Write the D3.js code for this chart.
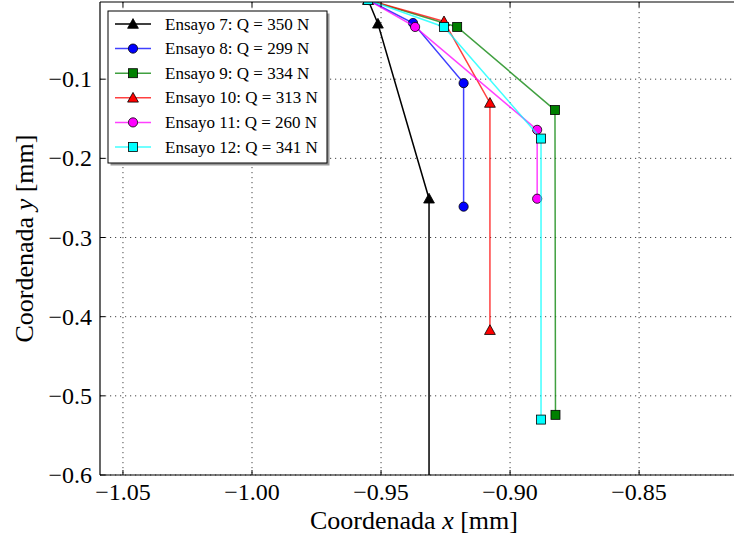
<!DOCTYPE html>
<html><head><meta charset="utf-8">
<script src="https://cdn.jsdelivr.net/npm/d3@7"></script>
<style>body{margin:0;background:#fff}svg{display:block}text{font-family:"Liberation Serif","Times New Roman",serif}</style>
</head><body>
<div id="chart"></div>
<script>
const seriesNames = ["Ensayo 7: Q = 350 N","Ensayo 8: Q = 299 N","Ensayo 9: Q = 334 N","Ensayo 10: Q = 313 N","Ensayo 11: Q = 260 N","Ensayo 12: Q = 341 N"];
const seriesColors = ["#000000","#0000ff","#008000","#ff0000","#ff00ff","#00ffff"];
const seriesMarkers = ["triangle","circle","square","triangle","circle","square"];
const ensayo7X = [-0.955,-0.9512,-0.9314,-0.9314];
const ensayo7Y = [0,-0.030,-0.251,-0.65];
const ensayo8X = [-0.955,-0.9376,-0.918,-0.918];
const ensayo8Y = [0,-0.029,-0.105,-0.261];
const ensayo9X = [-0.955,-0.9205,-0.8826,-0.8824];
const ensayo9Y = [0,-0.034,-0.139,-0.524];
const ensayo10X = [-0.955,-0.9256,-0.9078,-0.9078];
const ensayo10Y = [0,-0.027,-0.130,-0.417];
const ensayo11X = [-0.955,-0.9368,-0.8895,-0.8895];
const ensayo11Y = [0,-0.034,-0.164,-0.251];
const ensayo12X = [-0.955,-0.9256,-0.888,-0.888];
const ensayo12Y = [0,-0.034,-0.175,-0.530];
const xTicks = [-1.05,-1.00,-0.95,-0.90,-0.85];
const yTicks = [-0.1,-0.2,-0.3,-0.4,-0.5,-0.6];
const xLabel = "Coordenada ";
const yLabel = "Coordenada ";

const allX = [ensayo7X,ensayo8X,ensayo9X,ensayo10X,ensayo11X,ensayo12X];
const allY = [ensayo7Y,ensayo8Y,ensayo9Y,ensayo10Y,ensayo11Y,ensayo12Y];

const W = 734, H = 539;
const L = 100, T = 2, B = 475, R = 740;
const svg = d3.select("#chart").append("svg").attr("width", W).attr("height", H);
const x = d3.scaleLinear().domain([-1.0589, -0.8109]).range([L, R]);
const y = d3.scaleLinear().domain([-0.6, -0.0025]).range([B, T]);
const fmtMinus = s => s.replace("-", "\u2212");

svg.append("defs").append("clipPath").attr("id","clip").append("rect")
  .attr("x", L).attr("y", T).attr("width", R - L).attr("height", B - T);

// grid
const grid = svg.append("g").attr("stroke","#444").attr("stroke-width",1).attr("stroke-dasharray","1.2,3.8");
xTicks.forEach(v => grid.append("line").attr("x1",x(v)).attr("x2",x(v)).attr("y1",T).attr("y2",B));
yTicks.forEach(v => grid.append("line").attr("x1",L).attr("x2",R).attr("y1",y(v)).attr("y2",y(v)));

function marker(g, type, cx, cy, color) {
  if (type === "circle") {
    g.append("circle").attr("cx",cx).attr("cy",cy).attr("r",4.6).attr("fill",color).attr("stroke","#000").attr("stroke-width",0.8);
  } else if (type === "square") {
    g.append("rect").attr("x",cx-4.5).attr("y",cy-4.5).attr("width",9).attr("height",9).attr("fill",color).attr("stroke","#000").attr("stroke-width",0.8);
  } else {
    const s = 5.4;
    g.append("path").attr("d",`M${cx},${cy-s} L${cx+s},${cy+s*0.8} L${cx-s},${cy+s*0.8} Z`).attr("fill",color).attr("stroke","#000").attr("stroke-width",0.8);
  }
}

const plot = svg.append("g").attr("clip-path","url(#clip)");
const line = d3.line().x(d => x(d[0])).y(d => y(d[1]));
allX.forEach((xs, i) => {
  const pts = xs.map((v, j) => [v, allY[i][j]]);
  const g = plot.append("g");
  g.append("path").attr("d", line(pts)).attr("fill","none").attr("stroke",seriesColors[i])
    .attr("stroke-width",1.5).attr("stroke-opacity", i === 0 ? 1 : 0.75);
  pts.forEach(p => marker(g, seriesMarkers[i], x(p[0]), y(p[1]), seriesColors[i]));
});

// spines
const sp = svg.append("g").attr("stroke","#000").attr("stroke-width",1.2);
sp.append("line").attr("x1",L).attr("x2",L).attr("y1",T).attr("y2",B);
sp.append("line").attr("x1",L).attr("x2",R).attr("y1",B).attr("y2",B);
sp.append("line").attr("x1",L).attr("x2",R).attr("y1",T).attr("y2",T);

// ticks
const tk = svg.append("g").attr("stroke","#000").attr("stroke-width",1);
xTicks.forEach(v => {
  tk.append("line").attr("x1",x(v)).attr("x2",x(v)).attr("y1",B).attr("y2",B-5);
  tk.append("line").attr("x1",x(v)).attr("x2",x(v)).attr("y1",T).attr("y2",T+5);
});
yTicks.forEach(v => {
  tk.append("line").attr("x1",L).attr("x2",L+5).attr("y1",y(v)).attr("y2",y(v));
});

// tick labels
const tl = svg.append("g").attr("font-size",24).attr("fill","#000");
xTicks.forEach(v => tl.append("text").attr("x",x(v)).attr("y",B+25).attr("text-anchor","middle").text(fmtMinus(v.toFixed(2))));
yTicks.forEach(v => tl.append("text").attr("x",L-8).attr("y",y(v)+8).attr("text-anchor","end").text(fmtMinus(v.toFixed(1))));

// axis labels
const xl = svg.append("text").attr("x",414).attr("y",529).attr("text-anchor","middle").attr("font-size",26);
xl.append("tspan").text(xLabel);
xl.append("tspan").attr("font-style","italic").text("x");
xl.append("tspan").text(" [mm]");
const yl = svg.append("text").attr("transform",`translate(33,${(T+B)/2}) rotate(-90)`).attr("text-anchor","middle").attr("font-size",26);
yl.append("tspan").text(yLabel);
yl.append("tspan").attr("font-style","italic").text("y");
yl.append("tspan").text(" [mm]");

// legend
const lg = svg.append("g");
const lx = 108, ly = 11, lw = 219, lh = 152;
lg.append("rect").attr("x",lx+2.5).attr("y",ly+2.5).attr("width",lw).attr("height",lh).attr("fill","#999");
lg.append("rect").attr("x",lx).attr("y",ly).attr("width",lw).attr("height",lh).attr("fill","#fff").attr("stroke","#000").attr("stroke-width",1);
seriesNames.forEach((name, i) => {
  const ry = 24 + i * 24.6;
  lg.append("line").attr("x1",115).attr("x2",151).attr("y1",ry).attr("y2",ry).attr("stroke",seriesColors[i]).attr("stroke-width",1.5).attr("stroke-opacity", i === 0 ? 1 : 0.75);
  marker(lg, seriesMarkers[i], 133, ry, seriesColors[i]);
  lg.append("text").attr("x",165).attr("y",ry+5.5).attr("font-size",17).text(name);
});
</script>
</body></html>
